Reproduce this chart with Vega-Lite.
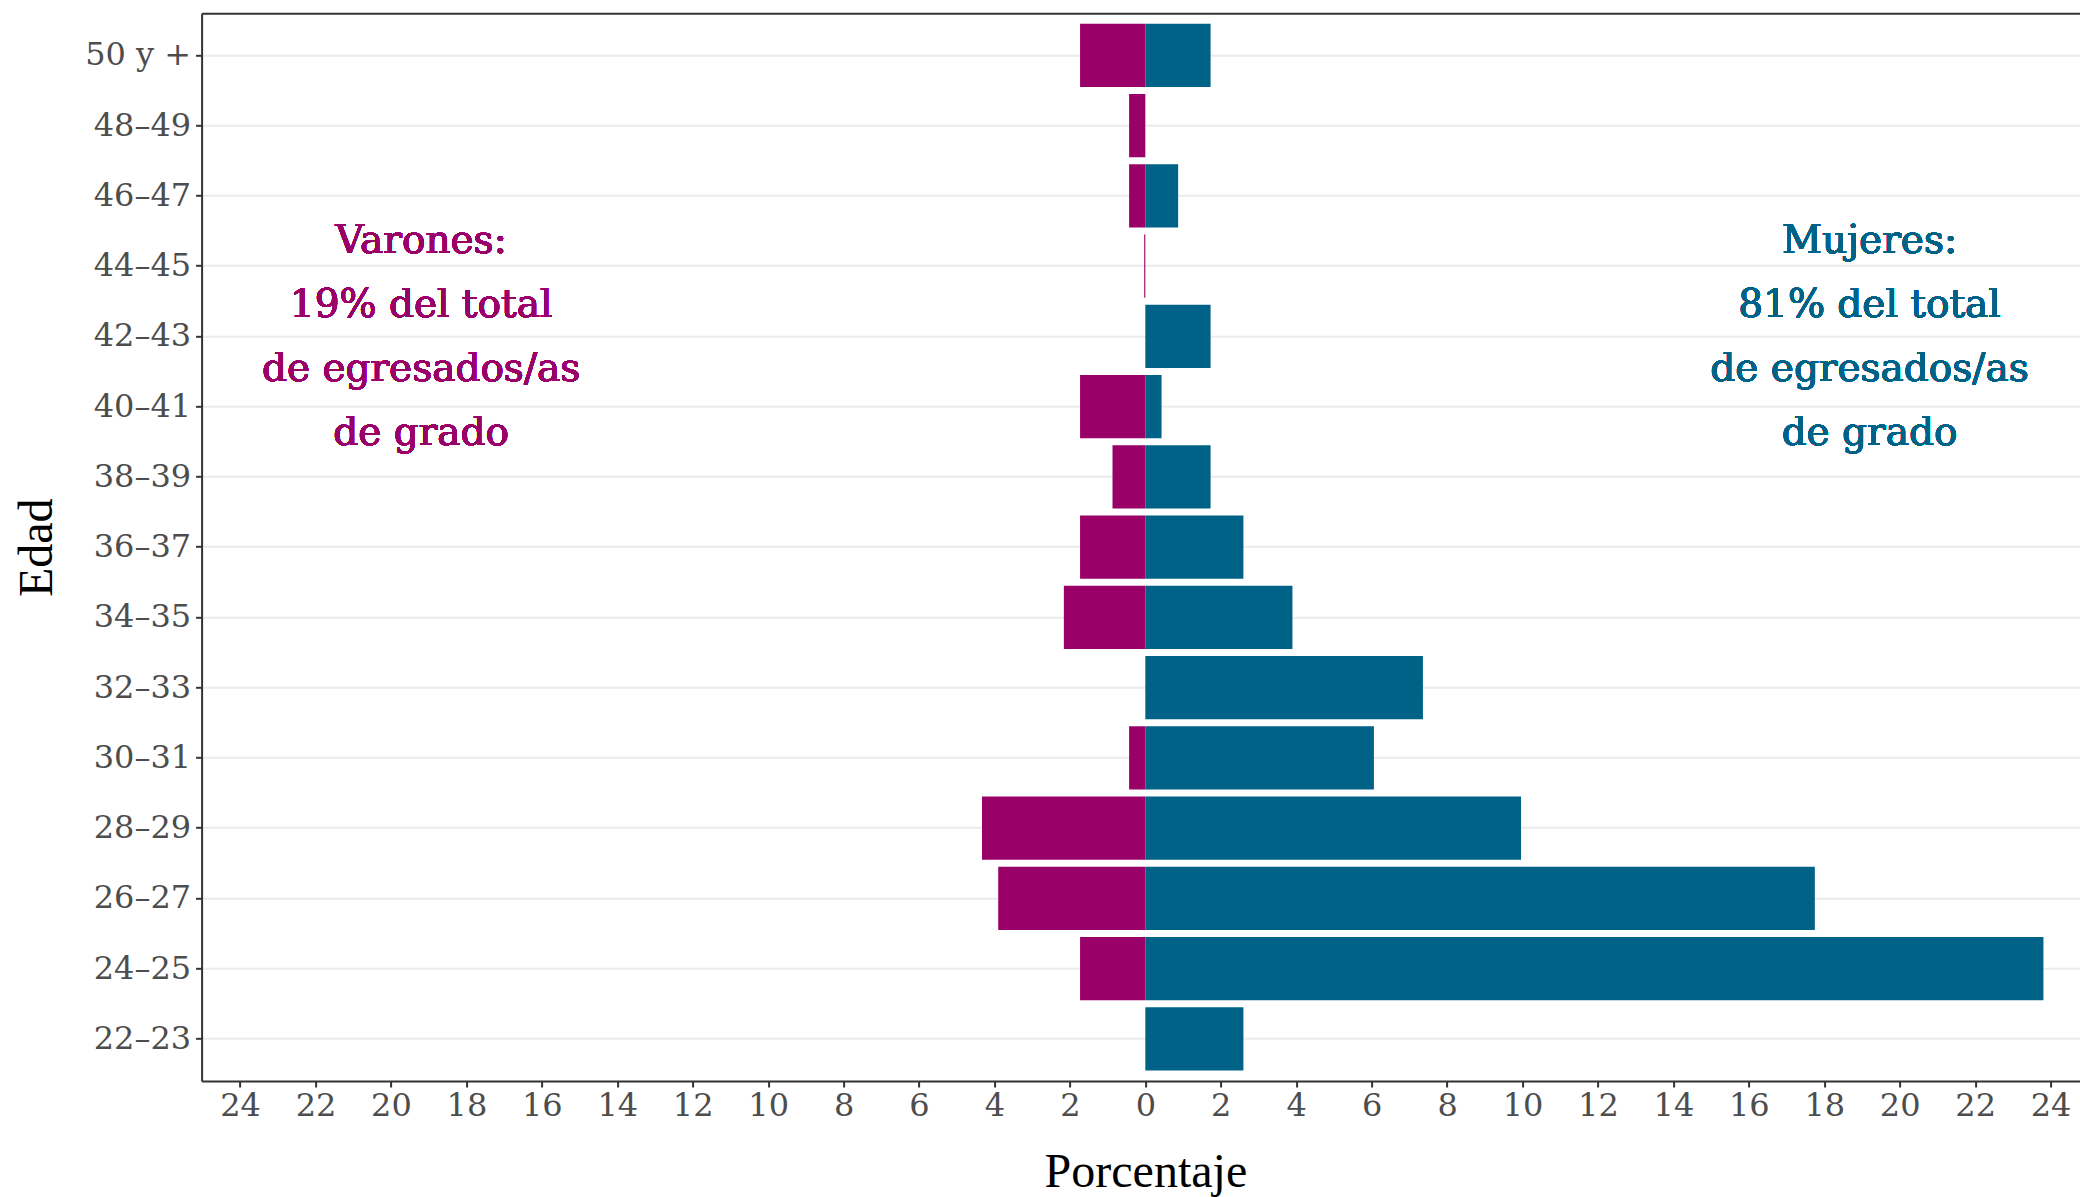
{
  "$schema": "https://vega.github.io/schema/vega-lite/v6.json",
  "width": 1878.4,
  "height": 1067.7,
  "autosize": {"type": "none"},
  "padding": {"left": 201.6, "top": 13.3, "right": 0, "bottom": 116},
  "background": "white",
  "config": {"view": {"stroke": null}},
  "data": {
    "values": [
      {"edad": "50 y +", "sexo": "Varones", "pct": -1.73},
      {"edad": "50 y +", "sexo": "Mujeres", "pct": 1.73},
      {"edad": "48–49", "sexo": "Varones", "pct": -0.43},
      {"edad": "48–49", "sexo": "Mujeres", "pct": 0},
      {"edad": "46–47", "sexo": "Varones", "pct": -0.43},
      {"edad": "46–47", "sexo": "Mujeres", "pct": 0.87},
      {"edad": "44–45", "sexo": "Varones", "pct": -0.03},
      {"edad": "44–45", "sexo": "Mujeres", "pct": 0},
      {"edad": "42–43", "sexo": "Varones", "pct": 0},
      {"edad": "42–43", "sexo": "Mujeres", "pct": 1.73},
      {"edad": "40–41", "sexo": "Varones", "pct": -1.73},
      {"edad": "40–41", "sexo": "Mujeres", "pct": 0.43},
      {"edad": "38–39", "sexo": "Varones", "pct": -0.87},
      {"edad": "38–39", "sexo": "Mujeres", "pct": 1.73},
      {"edad": "36–37", "sexo": "Varones", "pct": -1.73},
      {"edad": "36–37", "sexo": "Mujeres", "pct": 2.6},
      {"edad": "34–35", "sexo": "Varones", "pct": -2.16},
      {"edad": "34–35", "sexo": "Mujeres", "pct": 3.9},
      {"edad": "32–33", "sexo": "Varones", "pct": 0},
      {"edad": "32–33", "sexo": "Mujeres", "pct": 7.36},
      {"edad": "30–31", "sexo": "Varones", "pct": -0.43},
      {"edad": "30–31", "sexo": "Mujeres", "pct": 6.06},
      {"edad": "28–29", "sexo": "Varones", "pct": -4.33},
      {"edad": "28–29", "sexo": "Mujeres", "pct": 9.96},
      {"edad": "26–27", "sexo": "Varones", "pct": -3.9},
      {"edad": "26–27", "sexo": "Mujeres", "pct": 17.75},
      {"edad": "24–25", "sexo": "Varones", "pct": -1.73},
      {"edad": "24–25", "sexo": "Mujeres", "pct": 23.81},
      {"edad": "22–23", "sexo": "Varones", "pct": 0},
      {"edad": "22–23", "sexo": "Mujeres", "pct": 2.6}
    ]
  },
  "layer": [
    {
      "mark": {"type": "bar"},
      "encoding": {
        "y": {
          "field": "edad",
          "type": "nominal",
          "sort": ["50 y +", "48–49", "46–47", "44–45", "42–43", "40–41", "38–39", "36–37", "34–35", "32–33", "30–31", "28–29", "26–27", "24–25", "22–23"],
          "scale": {"paddingInner": 0.1, "paddingOuter": 0.15},
          "axis": {
            "grid": true, "gridColor": "#ebebeb", "gridWidth": 2,
            "domainColor": "#333333", "domainWidth": 2,
            "tickColor": "#333333", "tickWidth": 2, "tickSize": 6,
            "labelPadding": 5, "labelFont": "DejaVu Serif", "labelFontSize": 32, "labelColor": "#4d4d4d",
            "title": "Edad", "titleFont": "Liberation Serif", "titleFontSize": 48, "titleFontWeight": "normal", "titleColor": "black",
            "titleX": -150, "titleY": 534, "titleBaseline": "alphabetic", "titleAlign": "center", "titleAngle": 270
          }
        },
        "x": {
          "field": "pct",
          "type": "quantitative",
          "stack": null,
          "scale": {"domain": [-25.02, 24.78], "nice": false, "zero": false},
          "axis": {
            "orient": "bottom",
            "values": [-24, -22, -20, -18, -16, -14, -12, -10, -8, -6, -4, -2, 0, 2, 4, 6, 8, 10, 12, 14, 16, 18, 20, 22, 24],
            "labelExpr": "'' + abs(datum.value)",
            "grid": false,
            "domainColor": "#333333", "domainWidth": 2,
            "tickColor": "#333333", "tickWidth": 2, "tickSize": 6,
            "labelPadding": 3, "labelFont": "DejaVu Serif", "labelFontSize": 32, "labelColor": "#4d4d4d",
            "title": "Porcentaje", "titleFont": "Liberation Serif", "titleFontSize": 48, "titleFontWeight": "normal", "titleColor": "black",
            "titleX": 943.8, "titleY": 105, "titleBaseline": "alphabetic", "titleAlign": "center"
          }
        },
        "color": {
          "field": "sexo",
          "type": "nominal",
          "scale": {"domain": ["Varones", "Mujeres"], "range": ["#990068", "#006287"]},
          "legend": null
        }
      }
    },
    {
      "mark": {"type": "text", "font": "DejaVu Serif", "fontSize": 39, "lineBreak": "\n", "lineHeight": 64, "align": "center", "baseline": "middle", "dy": -25, "color": "#990068"},
      "encoding": {
        "x": {"datum": -19.2, "type": "quantitative", "axis": {"orient": "top", "labels": false, "ticks": false, "grid": false, "title": null, "domainColor": "#333333", "domainWidth": 2}},
        "y": {"datum": "44–45", "type": "nominal"},
        "text": {"value": "Varones:\n19% del total\nde egresados/as\nde grado"}
      }
    },
    {
      "mark": {"type": "text", "font": "DejaVu Serif", "fontSize": 39, "lineBreak": "\n", "lineHeight": 64, "align": "center", "baseline": "middle", "dy": -25, "color": "#006287"},
      "encoding": {
        "x": {"datum": 19.2, "type": "quantitative", "axis": null},
        "y": {"datum": "44–45", "type": "nominal"},
        "text": {"value": "Mujeres:\n81% del total\nde egresados/as\nde grado"}
      }
    }
  ],
  "resolve": {"axis": {"x": "independent"}}
}
